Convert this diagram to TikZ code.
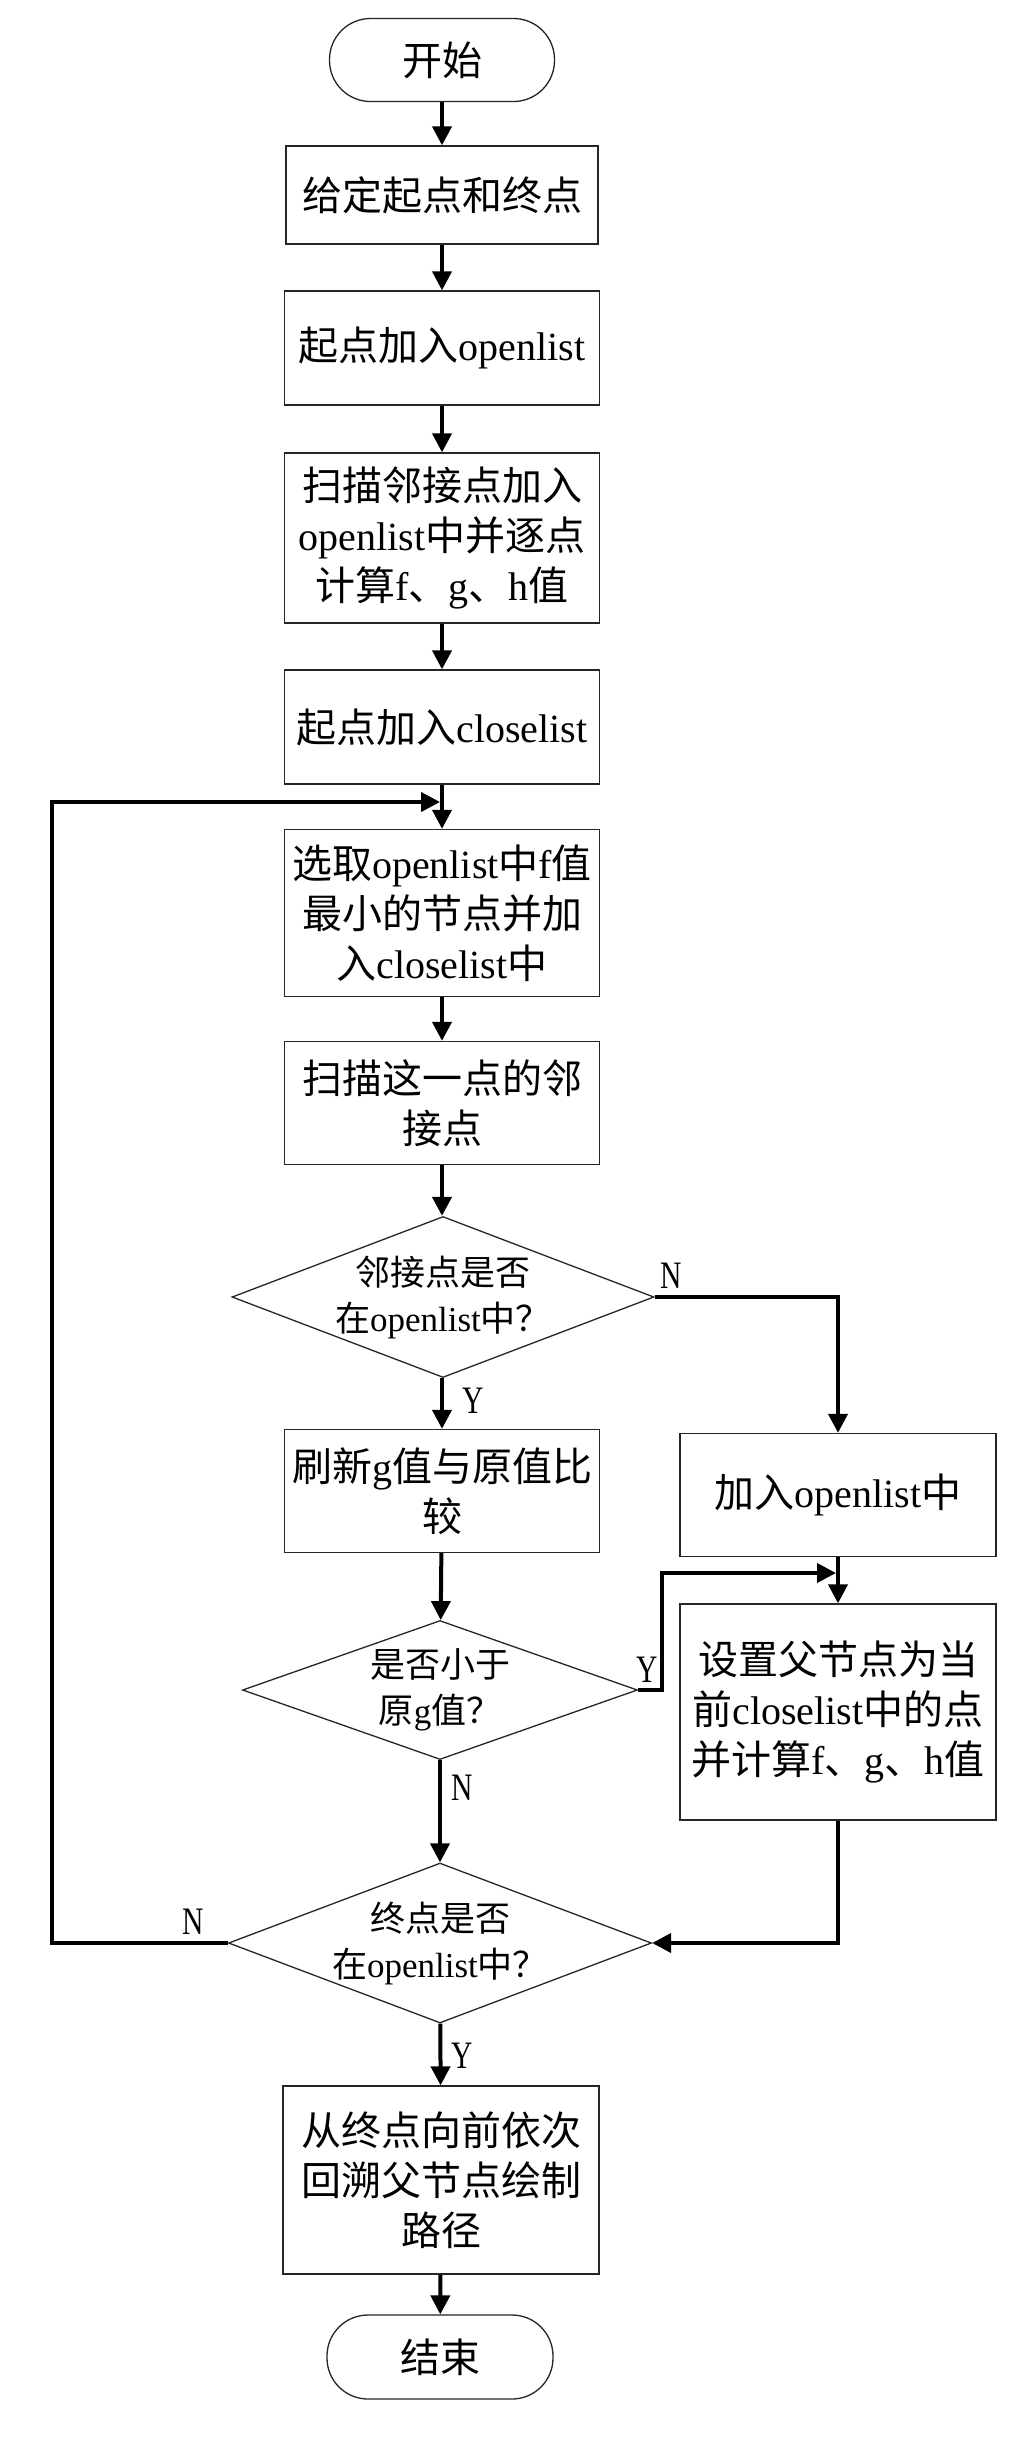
\documentclass[tikz,border=0pt]{standalone}
\usepackage{fontspec}
\setmainfont{Liberation Serif}
\newfontfamily\cjk{Noto Sans CJK SC}
\usetikzlibrary{arrows.meta,shapes.geometric,calc}
\newcommand\zh[1]{{\cjk #1}}
\begin{document}
\begin{tikzpicture}[x=1pt,y=-1pt,
  box/.style={draw=black!85, line width=1.3pt, rectangle, inner sep=0pt, align=center,
    minimum width=315pt, font=\fontsize{40}{50}\selectfont},
  term/.style={draw=black!85, line width=1.3pt, rectangle, rounded corners=41pt, inner sep=0pt,
    minimum width=225pt, minimum height=83pt, font=\fontsize{40}{50}\selectfont},
  dec/.style={draw=black!85, line width=1.3pt, diamond, inner sep=0pt},
  dtext/.style={align=center, inner sep=0pt, font=\fontsize{35}{46}\selectfont},
  arr/.style={line width=4pt, -{Triangle[length=19pt,width=19pt]}},
  lab/.style={inner sep=0pt, font=\fontsize{37}{37}\selectfont}
]
\useasboundingbox (0,0) rectangle (1027,2437);
\fill[white] (0,0) rectangle (1027,2437);

\node[term] (start) at (442,60) {\zh{开始}};
\node[box, minimum width=312pt, minimum height=98pt] (b1) at (442,195) {\zh{给定起点和终点}};
\node[box, minimum height=114pt] (b2) at (442,348) {\zh{起点加入}openlist};
\node[box, minimum height=170pt] (b3) at (442,538) {\zh{扫描邻接点加入}\\openlist\zh{中并逐点}\\\zh{计算}f\zh{、}g\zh{、}h\zh{值}};
\node[box, minimum height=114pt] (b4) at (442,727) {\zh{起点加入}closelist};
\node[box, minimum height=167pt] (b5) at (442,913) {\zh{选取}openlist\zh{中}f\zh{值}\\\zh{最小的节点并加}\\\zh{入}closelist\zh{中}};
\node[box, minimum height=123pt] (b6) at (442,1103) {\zh{扫描这一点的邻}\\\zh{接点}};
\node[dec, minimum width=422pt, minimum height=161pt] (d1) at (443,1297) {};
\node[dtext] (t1) at (d1) {\zh{邻接点是否}\\\zh{在}openlist\zh{中？}};
\node[box, minimum height=123pt] (b8) at (442,1491) {\zh{刷新}g\zh{值与原值比}\\\zh{较}};
\node[box, minimum width=316pt, minimum height=123pt] (b7) at (838,1495) {\zh{加入}openlist\zh{中}};
\node[dec, minimum width=395pt, minimum height=139pt] (d2) at (440,1690) {};
\node[dtext] (t2) at (d2) {\zh{是否小于}\\\zh{原}g\zh{值？}};
\node[box, minimum width=316pt, minimum height=216pt] (b9) at (838,1712) {\zh{设置父节点为当}\\\zh{前}closelist\zh{中的点}\\\zh{并计算}f\zh{、}g\zh{、}h\zh{值}};
\node[dec, minimum width=423pt, minimum height=160pt] (d3) at (440,1943) {};
\node[dtext] (t3) at (d3) {\zh{终点是否}\\\zh{在}openlist\zh{中？}};
\node[box, minimum width=316pt, minimum height=188pt] (b10) at (441,2180) {\zh{从终点向前依次}\\\zh{回溯父节点绘制}\\\zh{路径}};
\node[term, minimum width=226pt, minimum height=84pt] (end) at (440,2357) {\zh{结束}};

\coordinate (jn) at (442,802);
\coordinate (lb) at (52,0);
\coordinate (j2) at (838,1573);
\coordinate (yx) at (662,0);

\draw[arr] (start) -- (b1);
\draw[arr] (b1) -- (b2);
\draw[arr] (b2) -- (b3);
\draw[arr] (b3) -- (b4);
\draw[arr] (b4) -- (b5);
\draw[arr] (b5) -- (b6);
\draw[arr] (b6.south) -- (b6.south |- d1.north);
\draw[arr] (d1.south -| b8.north) -- (b8.north);
\draw[arr] (d1.east) -| (b7.north);
\draw[arr] (b8) -- (d2);
\draw[arr] (b7) -- (b9);
\draw[arr, shorten >=2pt] (d2.east) -| (yx |- j2) -- (j2);
\draw[arr] (d2) -- (d3);
\draw[arr] (b9.south) |- (d3.east);
\draw[arr, shorten >=2pt] (d3.west) -| (lb |- jn) -- (jn);
\draw[arr] (d3) -- (b10);
\draw[arr] (b10) -- (end);

\node[lab] (ly1) at (473,1401) {\scalebox{0.8}[1.05]{Y}};
\node[lab] (ln1) at (671,1276) {\scalebox{0.8}[1.05]{N}};
\node[lab] (ly2) at (647,1670) {\scalebox{0.8}[1.05]{Y}};
\node[lab] (ln2) at (462,1788) {\scalebox{0.8}[1.05]{N}};
\node[lab] (ln3) at (193,1922) {\scalebox{0.8}[1.05]{N}};
\node[lab] (ly3) at (462,2056) {\scalebox{0.8}[1.05]{Y}};
\end{tikzpicture}
\end{document}
